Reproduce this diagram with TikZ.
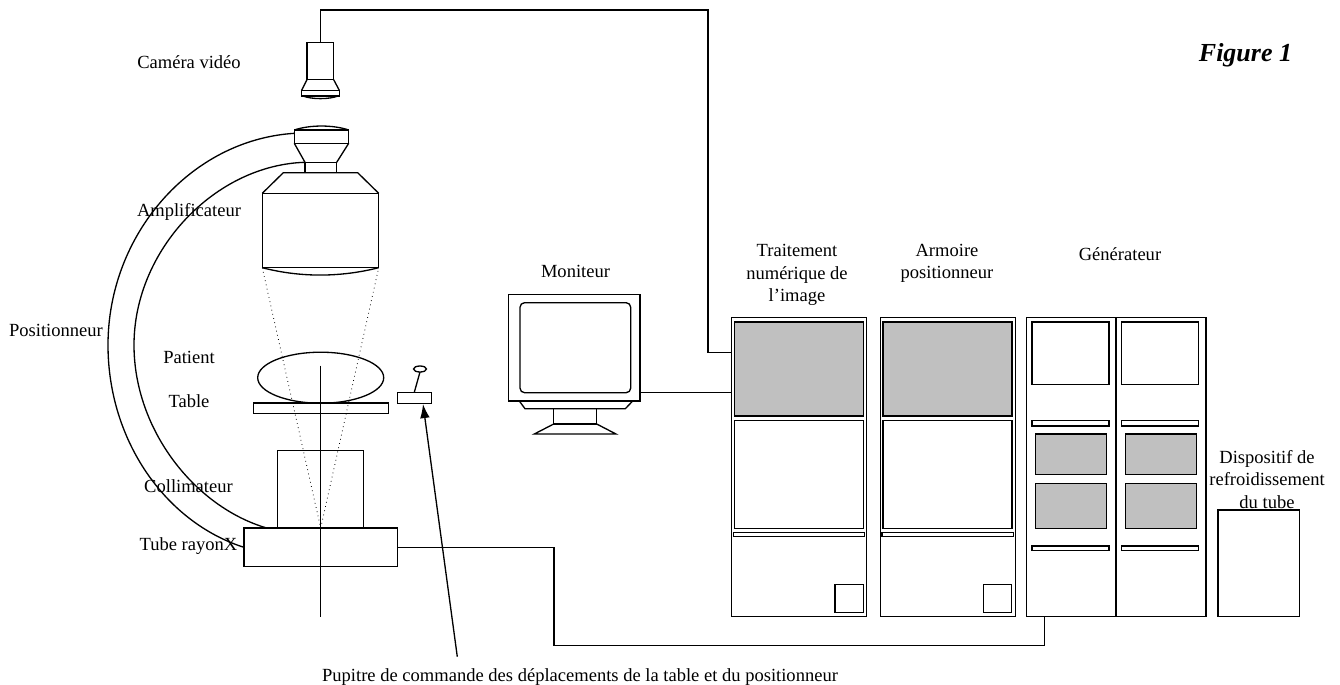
\documentclass[tikz,border=0pt]{standalone}
\usepackage{fontspec}
\usepackage{xcolor}
\usepackage{tikz}
\usetikzlibrary{positioning,arrows.meta,shapes.geometric}
\setmainfont{Liberation Serif}
\definecolor{panelgray}{HTML}{C0C0C0}

\begin{document}
\begin{tikzpicture}[x=0.02cm,y=-0.02cm,line width=0.75pt,
    every node/.style={font=\fontsize{10.55}{12.75}\selectfont,inner sep=0pt,outer sep=0pt},
    sz/.style 2 args={minimum width=#1*0.02cm,minimum height=#2*0.02cm}]
      \tikzstyle{box}=[draw,rectangle];
      \tikzstyle{panel}=[draw,rectangle,fill=panelgray];
      \tikzstyle{lbl}=[align=center];
      \useasboundingbox (0,0) rectangle (1340,684);
      % camera
      \node[box,sz={26.7}{37.4}] (cam) at (320.35,61) {};
      \node[box,sz={37.6}{5.7}] (lens) at (320.5,93.15) {};
      \draw (cam.south west) -- (lens.north west) (cam.south east) -- (lens.north east);
      \draw (303,96) .. controls (312,99.5) and (329,99.5) .. (338,96);
      % amplifier
      \node[box,sz={54.4}{13.3}] (cap) at (321.5,136.65) {};
      \node[box,sz={31.7}{10.4}] (neck) at (320.85,167.5) {};
      \node[box,sz={116.4}{74.4}] (amp) at (320.5,230.5) {};
      \draw (cap.north west) .. controls (310,124.7) and (333,124.7) .. (cap.north east);
      \draw (cap.south west) -- (neck.north west) (cap.south east) -- (neck.north east);
      \draw (amp.north west) -- (283.3,172.7) -- (357.7,172.7) -- (amp.north east);
      \draw (amp.south west) .. controls (300,277.5) and (340,277.5) .. (amp.south east);
      % patient side
      \node[draw,ellipse,sz={126}{51}] (patient) at (320.7,377.7) {};
      \node[box,sz={135}{10.7}] (table) at (320.8,408.35) {};
      \node[box,sz={86}{77.3}] (coll) at (320.7,489.35) {};
      \node[box,sz={153.7}{38.7}] (tube) at (320.85,547.35) {};
      \coordinate (axistop) at (320.7,365.7);
      \coordinate (axisend) at (320.7,616.7);
      \draw (axistop) -- (axisend);
      \draw[dotted,line width=0.45pt] (amp.south west) -- (coll.south) -- (amp.south east);
      % positioner arm
      \coordinate (armend) at (266.7,528);
      \draw (cap.173) .. controls (190,140) and (108,235) .. (108,345)
           .. controls (108,440) and (165,522) .. (tube.west);
      \draw (neck.north west) .. controls (215,165) and (134,250) .. (134,345)
           .. controls (134,430) and (195,507) .. (armend);
      % joystick
      \node[box,sz={34}{11}] (joy) at (414.3,397.8) {};
      \node[draw,ellipse,sz={13}{6}] (knob) at (420,369) {};
      \draw (joy.north) -- (knob.south);
      \coordinate (joyin) at (423,404);
      \coordinate (pupfoot) at (457.3,656.7);
      \draw[-{Latex[length=8pt,width=5.5pt]}] (pupfoot) -- (joyin);
      % monitor
      \node[box,sz={131.3}{106.3}] (mon) at (574.35,347.85) {};
      \node[box,sz={110.7}{90},rounded corners=2.6pt] (screen) at (575.35,347.7) {};
      \node[box,sz={43}{15.3}] (monneck) at (575.2,416.35) {};
      \draw (519.3,401) -- (525,408.7) -- (625.3,408.7) -- (632.7,401);
      \draw (monneck.south west) -- (534.3,434) -- (616,434) -- (monneck.south east);
      % cabinet 1
      \node[box,sz={135}{299}] (cabA) at (799.2,467.2) {};
      \node[panel,sz={129}{94}] (cabAtop) at (798.8,369) {};
      \node[box,sz={129}{107.6}] (cabAmid) at (798.8,474.5) {};
      \node[box,sz={131.4}{4.4}] (cabAslat) at (799,534.5) {};
      \node[box,sz={28.3}{28}] (cabAsq) at (849.15,598.7) {};
      % cabinet 2
      \node[box,sz={135}{299}] (cabB) at (947.9,467.2) {};
      \node[panel,sz={129}{94}] (cabBtop) at (947.5,369) {};
      \node[box,sz={129}{107.6}] (cabBmid) at (947.5,474.5) {};
      \node[box,sz={131.4}{4.4}] (cabBslat) at (947.7,534.5) {};
      \node[box,sz={28}{28}] (cabBsq) at (997.7,598.7) {};
      % generator
      \node[box,sz={89.7}{299.4}] (genL) at (1071.15,467) {};
      \node[box,sz={90}{299.4}] (genR) at (1161,467) {};
      \node[box,sz={77}{62.7}] (genLtop) at (1070.5,353.35) {};
      \node[box,sz={77.4}{62.7}] (genRtop) at (1160,353.35) {};
      \node[box,sz={77}{5.3}] (genLslatA) at (1070.5,423.35) {};
      \node[box,sz={77.4}{5.3}] (genRslatA) at (1160,423.35) {};
      \node[panel,sz={71.4}{40.7}] (genLp) at (1071,454.35) {};
      \node[panel,sz={71}{40.7}] (genRp) at (1160.8,454.35) {};
      \node[panel,sz={71.4}{45}] (genLq) at (1071,506.2) {};
      \node[panel,sz={71}{45}] (genRq) at (1160.8,506.2) {};
      \node[box,sz={77}{4.7}] (genLslatB) at (1070.5,548.35) {};
      \node[box,sz={77.4}{4.7}] (genRslatB) at (1160,548.35) {};
      % cooling
      \node[box,sz={81.3}{106.7}] (cool) at (1258.65,563.35) {};
      % cables
      \coordinate (cabletop) at (708,10);
      \coordinate (cablein) at (731.7,352.3);
      \coordinate (monout) at (640,392.3);
      \coordinate (busturn) at (554,645.7);
      \coordinate (genport) at (1044.7,616.7);
      \draw (cam.north) |- (cabletop) |- (cablein);
      \draw (monout) -- (monout -| cabA.west);
      \draw (tube.east) -| (busturn) -| (genport);
      % labels
      \node[lbl] (lcam) at (189,62) {Caméra vidéo};
      \node[lbl] (lamp) at (189,212) {Amplificateur};
      \node[lbl] (lpos) at (56,330) {Positionneur};
      \node[lbl] (lpat) at (189,357) {Patient};
      \node[lbl] (ltab) at (189,401) {Table};
      \node[lbl] (lcol) at (188.5,486) {Collimateur};
      \node[lbl] (ltub) at (188.5,546) {Tube rayonX};
      \node[lbl] (lmon) at (575.5,271) {Moniteur};
      \node[lbl] (ltrt) at (797,275) {Traitement\\numérique de\\l’image};
      \node[lbl] (larm) at (947,263.5) {Armoire\\positionneur};
      \node[lbl] (lgen) at (1120,254) {Générateur};
      \node[lbl] (lcoo) at (1267,479.5) {Dispositif de\\refroidissement\\du tube};
      \node[lbl,font=\fontsize{14.8}{17}\selectfont\bfseries\itshape] (lfig) at (1245.5,55) {Figure 1};
      \node[lbl] (lpup) at (580,677) {Pupitre de commande des déplacements de la table et du positionneur};
    \end{tikzpicture}
\end{document}
